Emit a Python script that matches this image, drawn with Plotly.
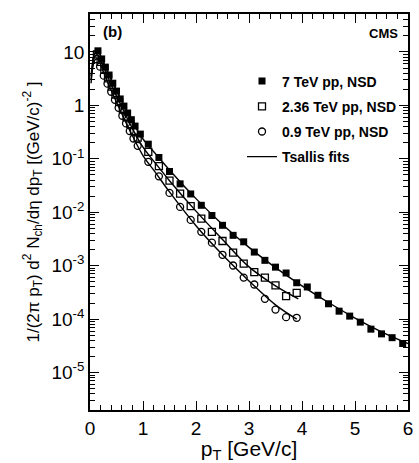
import plotly.graph_objects as go

# ---- data ----
pt_7 = [0.15, 0.22, 0.29, 0.36, 0.43, 0.5, 0.57, 0.64, 0.71, 0.78, 0.85, 0.95,
        1.1, 1.3, 1.5, 1.7, 1.9, 2.1, 2.3, 2.5, 2.7, 2.9, 3.1, 3.3, 3.5, 3.7, 3.9,
        4.1, 4.3, 4.5, 4.7, 4.9, 5.1, 5.3, 5.5, 5.7, 5.9]
y_7 = [10.5, 7.4, 5.2, 3.7, 2.6, 1.85, 1.32, 0.97, 0.72, 0.54, 0.41, 0.29,
       0.188, 0.106, 0.058, 0.034, 0.022, 0.0135, 0.0087, 0.0057, 0.0037, 0.0028,
       0.0018, 0.00126, 0.00094, 0.00073, 0.00048, 0.0004, 0.00028, 0.000194,
       0.000141, 0.000114, 0.000088, 0.000065, 0.000053, 0.000045, 0.000035]

pt_236 = [0.13, 0.2, 0.27, 0.34, 0.41, 0.48, 0.55, 0.62, 0.69, 0.76, 0.83, 0.9,
          1.1, 1.3, 1.5, 1.7, 1.9, 2.1, 2.3, 2.5, 2.7, 2.9, 3.1, 3.3, 3.5, 3.7, 3.9]
y_236 = [9.0, 6.5, 4.6, 3.2, 2.25, 1.6, 1.15, 0.83, 0.6, 0.44, 0.33, 0.25,
         0.135, 0.073, 0.039, 0.0224, 0.013, 0.0076, 0.0043, 0.0029, 0.00175,
         0.00109, 0.00076, 0.0006, 0.00043, 0.00027, 0.00031]

pt_09 = [0.12, 0.19, 0.26, 0.33, 0.4, 0.47, 0.54, 0.61, 0.68, 0.75, 0.82, 0.9,
         1.1, 1.3, 1.5, 1.7, 1.9, 2.1, 2.3, 2.5, 2.7, 2.9, 3.1, 3.3, 3.5, 3.7, 3.9]
y_09 = [7.3, 5.3, 3.6, 2.55, 1.8, 1.27, 0.9, 0.64, 0.46, 0.33, 0.24, 0.175,
        0.088, 0.047, 0.023, 0.0126, 0.0072, 0.0043, 0.0027, 0.0016, 0.00101,
        0.0006, 0.000445, 0.00024, 0.000151, 0.000109, 0.000106]

# Tsallis fit curves
fit_pt_7 = [0.02, 0.06, 0.1, 0.15, 0.25, 0.4, 0.6, 0.8, 1.0, 1.25, 1.5, 2.0,
            2.5, 3.0, 3.5, 4.0, 4.5, 5.0, 5.5, 6.0]
fit_y_7 = [3.5, 7.5, 9.8, 10.3, 6.3, 3.0, 1.2, 0.5, 0.235, 0.12, 0.062, 0.018,
           0.0059, 0.0022, 0.00092, 0.00042, 0.000205, 0.000105, 0.000058, 0.000035]
fit_pt_236 = [0.02, 0.06, 0.1, 0.15, 0.25, 0.4, 0.6, 0.8, 1.0, 1.25, 1.5, 2.0,
              2.5, 3.0, 3.5, 3.93]
fit_y_236 = [3.0, 6.5, 8.5, 8.8, 5.4, 2.45, 0.93, 0.37, 0.165, 0.079, 0.039,
             0.0105, 0.0031, 0.00095, 0.00042, 0.00024]
fit_pt_09 = [0.02, 0.06, 0.1, 0.15, 0.25, 0.4, 0.6, 0.8, 1.0, 1.25, 1.5, 2.0,
             2.5, 3.0, 3.5, 3.9]
fit_y_09 = [2.6, 5.6, 7.2, 7.3, 4.3, 1.9, 0.7, 0.27, 0.115, 0.053, 0.024,
            0.0056, 0.0016, 0.00052, 0.000185, 0.0001]

legend_names = ["7 TeV pp, NSD", "2.36 TeV pp, NSD", "0.9 TeV pp, NSD", "Tsallis fits"]

y_tickvals = [1e-5, 1e-4, 1e-3, 1e-2, 1e-1, 1, 10]
y_ticktext = ["10<sup>-5</sup>", "10<sup>-4</sup>", "10<sup>-3</sup>",
              "10<sup>-2</sup>", "10<sup>-1</sup>", "1", "10"]

FONT = "Liberation Sans, Arial, Helvetica, sans-serif"

fig = go.Figure()

line_style = dict(color="black", width=1.4, shape="spline")
fig.add_trace(go.Scatter(x=fit_pt_7, y=fit_y_7, mode="lines", line=line_style,
                         showlegend=False, hoverinfo="skip"))
fig.add_trace(go.Scatter(x=fit_pt_236, y=fit_y_236, mode="lines", line=line_style,
                         showlegend=False, hoverinfo="skip"))
fig.add_trace(go.Scatter(x=fit_pt_09, y=fit_y_09, mode="lines", line=line_style,
                         showlegend=False, hoverinfo="skip"))

fig.add_trace(go.Scatter(x=pt_7, y=y_7, mode="markers", name=legend_names[0],
                         legendgroup="a",
                         marker=dict(symbol="square", size=7, color="black",
                                     line=dict(color="black", width=0))))
fig.add_trace(go.Scatter(x=pt_236, y=y_236, mode="markers", name=legend_names[1],
                         legendgroup="b",
                         marker=dict(symbol="square-open", size=7, color="black",
                                     line=dict(color="black", width=1.3))))
fig.add_trace(go.Scatter(x=pt_09, y=y_09, mode="markers", name=legend_names[2],
                         legendgroup="c",
                         marker=dict(symbol="circle-open", size=7, color="black",
                                     line=dict(color="black", width=1.3))))
# legend entry for the fits
fig.add_trace(go.Scatter(x=[None], y=[None], mode="lines", name=legend_names[3],
                         legendgroup="d",
                         line=dict(color="black", width=1.2)))

minor_y = [m * 10 ** e for e in range(-6, 2) for m in range(2, 10)]

fig.update_layout(
    width=419, height=463,
    margin=dict(l=90, r=6, t=14, b=53),
    paper_bgcolor="white", plot_bgcolor="white",
    font=dict(family=FONT, color="black"),
    showlegend=True,
    legend=dict(x=0.478, y=0.87, xanchor="left", yanchor="top",
                bgcolor="rgba(0,0,0,0)", borderwidth=0,
                font=dict(family=FONT, size=14, color="black", weight="bold"),
                traceorder="grouped", tracegroupgap=4, itemwidth=30),
    xaxis=dict(range=[0, 6], tickmode="linear", tick0=0, dtick=1,
               ticks="inside", ticklen=9, tickwidth=1.2, tickcolor="black",
               showline=True, linecolor="black", linewidth=1.5, mirror="ticks",
               showgrid=False, zeroline=False,
               tickfont=dict(size=19, family=FONT),
               minor=dict(ticks="inside", ticklen=5, tickwidth=1, tickcolor="black",
                          dtick=0.2, tick0=0, showgrid=False),
               title=dict(text="p<sub>T</sub> [GeV/c]", font=dict(size=21, family=FONT),
                          standoff=2)),
    yaxis=dict(type="log", range=[-5.7, 1.71],
               tickmode="array", tickvals=y_tickvals, ticktext=y_ticktext,
               ticks="inside", ticklen=9, tickwidth=1.2, tickcolor="black",
               showline=True, linecolor="black", linewidth=1.5, mirror="ticks",
               showgrid=False, zeroline=False,
               tickfont=dict(size=19, family=FONT),
               minor=dict(ticks="inside", ticklen=5, tickwidth=1, tickcolor="black",
                          tickmode="array", tickvals=minor_y, showgrid=False),
               title=dict(text="1/(2π p<sub>T</sub>) d<sup>2</sup> N<sub>ch</sub>/dη dp<sub>T</sub> [(GeV/c)<sup>-2</sup> ]",
                          font=dict(size=17, family=FONT), standoff=8)),
)

fig.add_annotation(text="<b>(b)</b>", xref="paper", yref="paper", x=0.035, y=0.957,
                   xanchor="left", yanchor="middle", showarrow=False,
                   font=dict(size=15, family=FONT, color="black"))
fig.add_annotation(text="<b>CMS</b>", xref="paper", yref="paper", x=0.975, y=0.952,
                   xanchor="right", yanchor="middle", showarrow=False,
                   font=dict(size=13, family=FONT, color="black"))

fig.write_html("out.html", config={"displayModeBar": False},
               post_script="document.body.style.margin='0';")
